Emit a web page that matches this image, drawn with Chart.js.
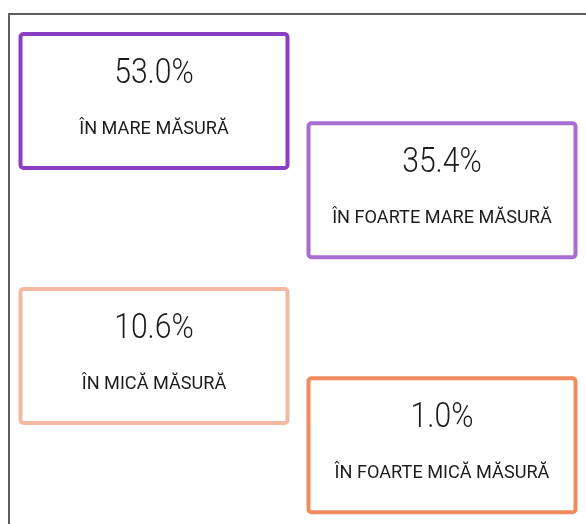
<!DOCTYPE html>
<html>
<head>
<meta charset="utf-8">
<script src="https://cdn.jsdelivr.net/npm/chart.js@4.4.0/dist/chart.umd.min.js"></script>
<style>
    html, body { margin: 0; padding: 0; background: #fff; overflow: hidden; }
    #frame {
        position: absolute; left: 8px; top: 13px; width: 700px; height: 700px;
        border-top: 2px solid #5e5e5e; border-left: 2px solid #5e5e5e;
    }
    #wrap { position: absolute; left: 0; top: 0; width: 586px; height: 524px; }
</style>
</head>
<body>
<div id="frame"></div>
<div id="wrap"><canvas id="chart" width="586" height="524"></canvas></div>
<script>
// Survey answers, in reading order of the boxes
const categories = ['ÎN MARE MĂSURĂ', 'ÎN FOARTE MARE MĂSURĂ', 'ÎN MICĂ MĂSURĂ', 'ÎN FOARTE MICĂ MĂSURĂ'];
const shares = [53.0, 35.4, 10.6, 1.0];

const boxColors = ['#8a3fc3', '#a86dd3', '#f4b9a0', '#ef8b5f'];
const FONT = 'Roboto, "DejaVu Sans Condensed", sans-serif';

// two staggered columns: the right column sits a bit lower
const points = shares.map((v, i) => ({
    x: i % 2,
    y: Math.floor(i / 2) + (i % 2) * 0.35
}));

// draw text squeezed sideways to imitate a narrow face
function narrowText(ctx, text, x, y, squeeze) {
    ctx.save();
    ctx.translate(x, y);
    ctx.scale(squeeze, 1);
    ctx.fillText(text, 0, 0);
    ctx.restore();
}

const boxPlugin = {
    id: 'boxes',
    afterDatasetsDraw(chart) {
        const ctx = chart.ctx;
        const meta = chart.getDatasetMeta(0);
        const w = 267, h = 134;
        ctx.save();
        meta.data.forEach((el, i) => {
            const cx = el.x, cy = el.y;
            ctx.lineWidth = 4;
            ctx.strokeStyle = boxColors[i];
            ctx.beginPath();
            ctx.roundRect(cx - w / 2, cy - h / 2, w, h, 3);
            ctx.stroke();

            ctx.fillStyle = '#1c1c1c';
            ctx.textAlign = 'center';
            ctx.textBaseline = 'middle';
            ctx.font = '300 35px ' + FONT;
            narrowText(ctx, shares[i].toFixed(1) + '%', cx, cy - 27, 0.86);
            ctx.font = '18.5px ' + FONT;
            narrowText(ctx, categories[i], cx, cy + 28, 0.98);
        });
        ctx.restore();
    }
};

new Chart(document.getElementById('chart').getContext('2d'), {
    type: 'scatter',
    data: {
        datasets: [{
            data: points,
            pointRadius: 0,
            pointHoverRadius: 0
        }]
    },
    options: {
        responsive: false,
        animation: false,
        events: [],
        layout: { padding: { left: 10, right: 0, top: 0, bottom: 0 } },
        plugins: {
            legend: { display: false },
            tooltip: { enabled: false }
        },
        scales: {
            x: { display: false, min: -0.5, max: 1.5 },
            y: { display: false, min: -0.396, max: 1.659, reverse: true }
        }
    },
    plugins: [boxPlugin]
});
</script>
</body>
</html>
